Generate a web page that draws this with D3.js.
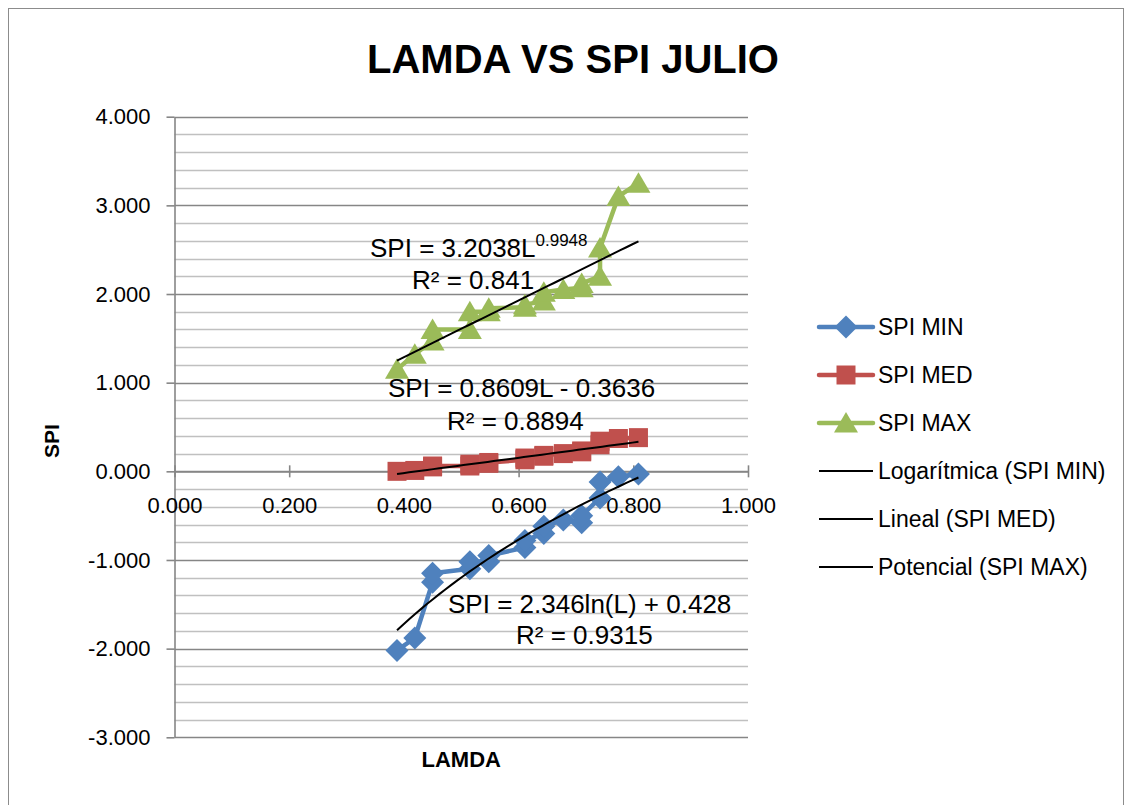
<!DOCTYPE html>
<html>
<head>
<meta charset="utf-8">
<script src="https://cdn.jsdelivr.net/npm/d3@7"></script>
<style>
  body { margin: 0; background: #fff; }
  svg { display: block; font-family: "Liberation Sans", Arial, sans-serif; }
</style>
</head>
<body>
<svg id="chart" width="1128" height="805"></svg>
<script>
// Lambda values (shared by the three series)
const lamda = [0.388, 0.419, 0.450, 0.450, 0.515, 0.515, 0.548, 0.548, 0.611, 0.611,
               0.644, 0.644, 0.678, 0.710, 0.710, 0.742, 0.742, 0.774, 0.809];

// SPI values
const spiMin = [-2.02, -1.88, -1.25, -1.15, -1.10, -1.02, -1.02, -0.95, -0.86, -0.78,
                -0.70, -0.62, -0.55, -0.58, -0.50, -0.30, -0.12, -0.06, -0.03];
const spiMed = [0.00, 0.01, 0.05, 0.06, 0.06, 0.08, 0.09, 0.10, 0.13, 0.15,
                0.17, 0.18, 0.20, 0.22, 0.23, 0.30, 0.34, 0.37, 0.38];
const spiMax = [1.15, 1.32, 1.47, 1.60, 1.60, 1.80, 1.80, 1.84, 1.85, 1.88,
                1.92, 2.02, 2.05, 2.07, 2.12, 2.20, 2.52, 3.10, 3.25];

// Axis ticks
const xTicks = [0, 0.2, 0.4, 0.6, 0.8, 1.0];
const yTicks = [-3, -2, -1, 0, 1, 2, 3, 4];

// Legend labels
const legendNames = ["SPI MIN", "SPI MED", "SPI MAX",
                     "Logarítmica (SPI MIN)", "Lineal (SPI MED)", "Potencial (SPI MAX)"];

const svg = d3.select("#chart");

// Outer chart border
svg.append("rect")
  .attr("x", 8.5).attr("y", 8.5)
  .attr("width", 1115).attr("height", 810)
  .attr("fill", "none").attr("stroke", "#8c8c8c").attr("stroke-width", 1);

// Scales
const x = d3.scaleLinear().domain([0, 1]).range([174.5, 748]);
const y = d3.scaleLinear().domain([-3, 4]).range([737.3, 116.7]);

// Minor and major gridlines
const minor = d3.range(-3, 4.0001, 0.2).filter(v => Math.abs(v - Math.round(v)) > 1e-6);
svg.append("g").selectAll("line").data(minor).join("line")
  .attr("x1", x(0)).attr("x2", x(1))
  .attr("y1", d => Math.round(y(d)) + 0.5).attr("y2", d => Math.round(y(d)) + 0.5)
  .attr("stroke", "#c0c0c0").attr("stroke-width", 1.6);
svg.append("g").selectAll("line").data(yTicks).join("line")
  .attr("x1", x(0)).attr("x2", x(1))
  .attr("y1", d => Math.round(y(d)) + 0.5).attr("y2", d => Math.round(y(d)) + 0.5)
  .attr("stroke", "#868686").attr("stroke-width", 1.6);

// Y axis
const yAxis = svg.append("g")
  .attr("transform", `translate(${x(0)},0)`)
  .call(d3.axisLeft(y).tickValues(yTicks).tickSize(8).tickSizeOuter(0)
    .tickFormat(d => d.toFixed(3)));
yAxis.select(".domain").attr("stroke", "#868686").attr("stroke-width", 1.6);
yAxis.selectAll(".tick line").attr("stroke", "#868686").attr("stroke-width", 1.6);
yAxis.selectAll(".tick text")
  .attr("x", -24).attr("font-size", 22).attr("fill", "#000")
  .style("font-family", "Liberation Sans, Arial, sans-serif");

// X axis through zero, ticks cross the line
const xAxis = svg.append("g")
  .attr("transform", `translate(0,${y(0)})`)
  .call(d3.axisBottom(x).tickValues(xTicks).tickSize(6).tickSizeOuter(0)
    .tickFormat(d => d.toFixed(3)));
xAxis.select(".domain").attr("stroke", "#868686").attr("stroke-width", 1.6);
xAxis.selectAll(".tick line").attr("y1", -6).attr("stroke", "#868686").attr("stroke-width", 1.6);
xAxis.selectAll(".tick text")
  .attr("y", 26).attr("font-size", 22).attr("fill", "#000")
  .style("font-family", "Liberation Sans, Arial, sans-serif");

// Series
const series = [
  { name: "SPI MIN", values: spiMin, color: "#4f81bd", symbol: "diamond" },
  { name: "SPI MED", values: spiMed, color: "#c0504d", symbol: "square" },
  { name: "SPI MAX", values: spiMax, color: "#9bbb59", symbol: "triangle" }
];

function markerPath(kind) {
  if (kind === "diamond") return "M0,-11.5L11.5,0L0,11.5L-11.5,0Z";
  if (kind === "square") return "M-9.5,-9.5H9.5V9.5H-9.5Z";
  return "M0,-11L12,9.5H-12Z";
}

// Trendlines from the equations shown on the chart
const fits = [
  l => 2.346 * Math.log(l) + 0.428,
  l => 0.8609 * l - 0.3636,
  l => 3.2038 * Math.pow(l, 0.9948)
];
const lMin = d3.min(lamda), lMax = d3.max(lamda);
const fitSteps = d3.range(0, 41).map(i => lMin + (lMax - lMin) * i / 40);

const line = d3.line().x(d => x(d[0])).y(d => y(d[1]));

series.forEach((s, i) => {
  const pts = lamda.map((l, j) => [l, s.values[j]]);
  svg.append("path")
    .attr("d", line(pts))
    .attr("fill", "none").attr("stroke", s.color)
    .attr("stroke-width", 4.5).attr("stroke-linejoin", "round").attr("stroke-linecap", "round");
  svg.append("g").selectAll("path").data(pts).join("path")
    .attr("transform", d => `translate(${x(d[0])},${y(d[1])})`)
    .attr("d", markerPath(s.symbol))
    .attr("fill", s.color);
  svg.append("path")
    .attr("d", line(fitSteps.map(l => [l, fits[i](l)])))
    .attr("fill", "none").attr("stroke", "#000").attr("stroke-width", 2);
});

// Trendline equations
const eq = svg.append("g").attr("font-size", 26).attr("fill", "#000");
const t1 = eq.append("text").attr("x", 370).attr("y", 257);
t1.append("tspan").text("SPI = 3.2038L");
t1.append("tspan").attr("dy", -11).attr("font-size", 17).text("0.9948");
eq.append("text").attr("x", 412).attr("y", 289).text("R² = 0.841");
eq.append("text").attr("x", 388).attr("y", 397).text("SPI = 0.8609L - 0.3636");
eq.append("text").attr("x", 447).attr("y", 430).text("R² = 0.8894");
eq.append("text").attr("x", 448).attr("y", 613).text("SPI = 2.346ln(L) + 0.428");
eq.append("text").attr("x", 516).attr("y", 644).text("R² = 0.9315");

// Title
svg.append("text")
  .attr("x", 573).attr("y", 73)
  .attr("text-anchor", "middle")
  .attr("font-size", 40).attr("font-weight", "bold")
  .text("LAMDA VS SPI JULIO");

// Axis titles
svg.append("text")
  .attr("x", x(0.5)).attr("y", 767)
  .attr("text-anchor", "middle")
  .attr("font-size", 22).attr("font-weight", "bold")
  .text("LAMDA");
svg.append("text")
  .attr("transform", "translate(59,441) rotate(-90)")
  .attr("text-anchor", "middle")
  .attr("font-size", 21).attr("font-weight", "bold")
  .text("SPI");

// Legend
const legend = svg.append("g");
const legendY = d3.scalePoint().domain(legendNames).range([327, 567]);
legendNames.forEach((name, i) => {
  const ly = legendY(name);
  const s = series[i];
  legend.append("line")
    .attr("x1", 819).attr("x2", 873).attr("y1", ly).attr("y2", ly)
    .attr("stroke", s ? s.color : "#000")
    .attr("stroke-width", s ? 4.5 : 1.8)
    .attr("stroke-linecap", s ? "round" : "butt");
  if (s) {
    legend.append("path")
      .attr("transform", `translate(846,${ly})`)
      .attr("d", markerPath(s.symbol))
      .attr("fill", s.color);
  }
  legend.append("text")
    .attr("x", 878).attr("y", ly).attr("dy", "0.35em")
    .attr("font-size", 23)
    .text(name);
});
</script>
</body>
</html>
